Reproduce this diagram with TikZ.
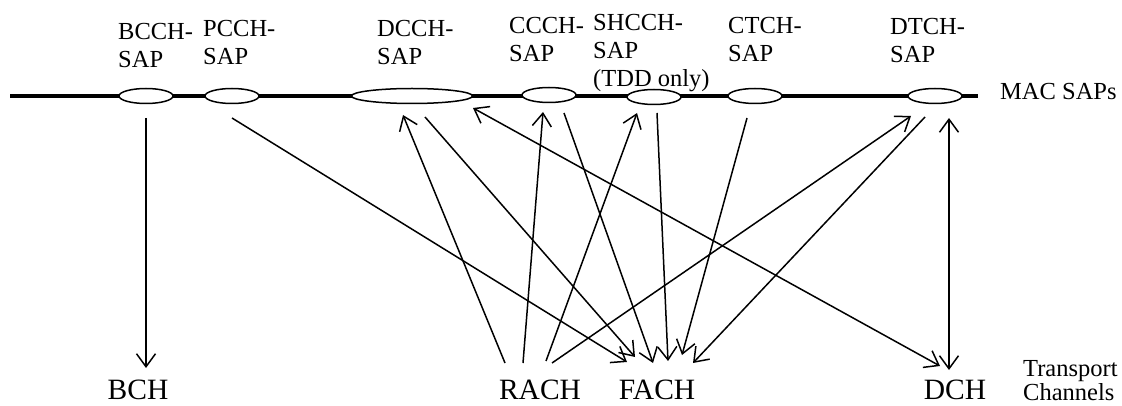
\documentclass[tikz,border=0pt]{standalone}
\usepackage{fontspec}
\setmainfont{Liberation Serif}
\usepackage{tikz}
\usetikzlibrary{arrows.meta}
\usetikzlibrary{calc}
\usetikzlibrary{shapes}
\begin{document}
\begin{tikzpicture}[x=1pt,y=-1pt,
	>={Straight Barb[length=13pt,width=19pt]},
	sap/.style={draw,line width=1.5pt,ellipse,fill=white,inner sep=0pt,minimum width=54pt,minimum height=15pt},
	saplabel/.style={anchor=base west,align=left,inner sep=0pt,font=\fontsize{24.5}{28}\selectfont},
	channel/.style={anchor=base,inner sep=0pt,font=\fontsize{29.5}{34}\selectfont},
	link/.style={line width=1.5pt,->}]
				\useasboundingbox (0,0) rectangle (1122,406);
				\coordinate (BAR_L) at (10,96);
				\coordinate (BAR_R) at (978,96);
				\draw[line width=4.5pt] (BAR_L) -- (BAR_R);
				\node[sap] (BCCH) at (146,96) {};
				\node[sap] (PCCH) at (232,96) {};
				\node[sap,minimum width=121pt] (DCCH) at (412,96) {};
				\node[sap] (CCCH) at (549,95) {};
				\node[sap] (SHCCH) at (654,97) {};
				\node[sap] (CTCH) at (755,96) {};
				\node[sap] (DTCH) at (935,96) {};
				% base is the last line
				\node[saplabel] (BCCH_TEXT) at (118,68) {BCCH-\\SAP};
				\node[saplabel] (PCCH_TEXT) at (203,65) {PCCH-\\SAP};
				\node[saplabel] (DCCH_TEXT) at (377,65) {DCCH-\\SAP};
				\node[saplabel] (CCCH_TEXT) at (509,62) {CCCH-\\SAP};
				\node[saplabel] (SHCCH_TEXT) at (593,87) {SHCCH-\\SAP\\(TDD only)};
				\node[saplabel] (CTCH_TEXT) at (728,62) {CTCH-\\SAP};
				\node[saplabel] (DTCH_TEXT) at (890,63) {DTCH-\\SAP};
				\node[saplabel] (MAC) at (1000,100) {MAC SAPs};
				\node[channel] (BCH) at (138,399) {BCH};
				\node[channel] (RACH) at (540,399) {RACH};
				\node[channel] (FACH) at (657,399) {FACH};
				\node[channel] (DCH) at (955,399) {DCH};
				\node[saplabel,font=\fontsize{24.5}{24}\selectfont] (TRANSPORT) at (1023,400) {Transport\\Channels};
				\draw[link] ($(BCCH)+(0,22)$) -- ($(BCH.base)+(8,-31)$);
				\draw[link] ($(PCCH)+(0,22)$) -- ($(FACH.base)+(-30,-37)$);
				\draw[link] ($(DCCH)+(13,21)$) -- ($(FACH.base)+(-22,-42)$);
				\draw[link,<->] ($(DCCH)+(61,12)$) -- ($(DCH.base)+(-15,-33)$);
				\draw[link] ($(CCCH)+(15,18)$) -- ($(FACH.base)+(-4,-36)$);
				\draw[link] ($(SHCCH)+(3,16)$) -- ($(FACH.base)+(11,-38)$);
				\draw[link] ($(CTCH)+(-8,22)$) -- ($(FACH.base)+(25,-44)$);
				\draw[link] ($(DTCH)+(-10,21)$) -- ($(FACH.base)+(36,-36)$);
				\draw[link,<->] ($(DTCH)+(14,22)$) -- ($(DCH.base)+(-6,-29)$);
				% random access goes up
				\draw[link] ($(RACH.base)+(-35,-36)$) -- ($(DCCH)+(-9,19)$);
				\draw[link] ($(RACH.base)+(-17,-36)$) -- ($(CCCH)+(-6,17)$);
				\draw[link] ($(RACH.base)+(6,-38)$) -- ($(SHCCH)+(-17,16)$);
				\draw[link] ($(RACH.base)+(12,-36)$) -- ($(DTCH)+(-24,20)$);
\end{tikzpicture}
\end{document}
